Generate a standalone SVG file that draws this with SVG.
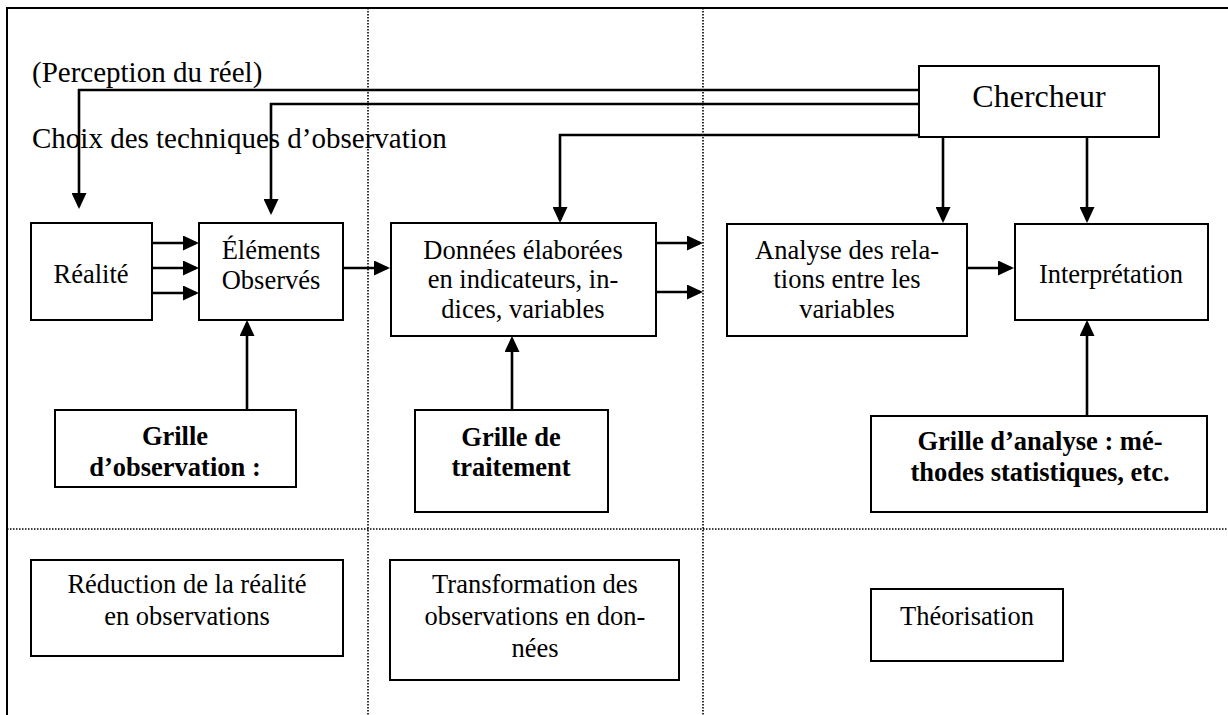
<svg xmlns="http://www.w3.org/2000/svg" width="1228" height="715" viewBox="0 0 1228 715">
<style>
.box{fill:#fff;stroke:#000;stroke-width:2}
.t{font-family:"Liberation Serif","Times New Roman",serif;font-size:26.5px;fill:#000;text-anchor:middle}
.b{font-weight:bold}
.lbl{font-family:"Liberation Serif","Times New Roman",serif;font-size:29px;fill:#000}
.frame{fill:none;stroke:#000;stroke-width:2}
.dot{fill:none;stroke:#000;stroke-width:1.6;stroke-dasharray:1.5 1.5}
.c{fill:none;stroke:#000;stroke-width:2.6;marker-end:url(#ah)}
</style>
<defs>
<marker id="ah" markerWidth="16" markerHeight="15" refX="13" refY="7.5" orient="auto" markerUnits="userSpaceOnUse">
<path d="M0,0 L16,7.5 L0,15 Z" fill="#000"/>
</marker>
</defs>
<rect width="1228" height="715" fill="#fff"/>
<g id="frame">
<path class="frame" d="M7,715 V8 H1228"/>
<path class="dot" d="M368,8 V715 M703,8 V715 M7,529 H1228"/>
</g>
<g id="labels">
<text class="lbl" x="32" y="82">(Perception du réel)</text>
<text class="lbl" x="32" y="148">Choix des techniques d’observation</text>
</g>
<g id="connectors">
<path class="c" d="M919,90 H79 V206"/>
<path class="c" d="M919,104 H271 V212"/>
<path class="c" d="M919,135 H560 V220"/>
<path class="c" d="M943,137 V220"/>
<path class="c" d="M1087,137 V220"/>
<path class="c" d="M152,243 H196"/>
<path class="c" d="M152,268 H196"/>
<path class="c" d="M152,293 H196"/>
<path class="c" d="M343,268 H387"/>
<path class="c" d="M656,243 H700"/>
<path class="c" d="M656,292 H700"/>
<path class="c" d="M967,268 H1011"/>
<path class="c" d="M247,410 V323"/>
<path class="c" d="M512,417 V339"/>
<path class="c" d="M1087,416 V323"/>
</g>
<g id="chercheur">
<rect class="box" x="919" y="66" width="240" height="71"/>
<text class="t" x="1039" y="107" style="font-size:32px">Chercheur</text>
</g>
<g id="realite">
<rect class="box" x="31" y="223" width="121" height="97"/>
<text class="t" x="91" y="283">Réalité</text>
</g>
<g id="elements">
<rect class="box" x="199" y="223" width="144" height="97"/>
<text class="t" x="271" y="259">Éléments</text>
<text class="t" x="271" y="289">Observés</text>
</g>
<g id="donnees">
<rect class="box" x="391" y="223" width="265" height="113"/>
<text class="t" x="523" y="259">Données élaborées</text>
<text class="t" x="523" y="288">en indicateurs, in-</text>
<text class="t" x="523" y="318">dices, variables</text>
</g>
<g id="analyse">
<rect class="box" x="727" y="224" width="240" height="112"/>
<text class="t" x="847" y="259">Analyse des rela-</text>
<text class="t" x="847" y="288">tions entre les</text>
<text class="t" x="847" y="318">variables</text>
</g>
<g id="interpretation">
<rect class="box" x="1015" y="224" width="193" height="96"/>
<text class="t" x="1111" y="283">Interprétation</text>
</g>
<g id="grille-observation">
<rect class="box" x="55" y="410" width="241" height="77"/>
<text class="t b" x="175" y="445">Grille</text>
<text class="t b" x="175" y="476">d’observation :</text>
</g>
<g id="grille-traitement">
<rect class="box" x="415" y="410" width="193" height="102"/>
<text class="t b" x="511" y="446">Grille de</text>
<text class="t b" x="511" y="476">traitement</text>
</g>
<g id="grille-analyse">
<rect class="box" x="871" y="416" width="336" height="96"/>
<text class="t b" x="1040" y="450">Grille d’analyse : mé-</text>
<text class="t b" x="1040" y="481">thodes statistiques, etc.</text>
</g>
<g id="reduction">
<rect class="box" x="31" y="560" width="312" height="96"/>
<text class="t" x="187" y="593">Réduction de la réalité</text>
<text class="t" x="187" y="625">en observations</text>
</g>
<g id="transformation">
<rect class="box" x="390" y="560" width="289" height="120"/>
<text class="t" x="535" y="593">Transformation des</text>
<text class="t" x="535" y="625">observations en don-</text>
<text class="t" x="535" y="657">nées</text>
</g>
<g id="theorisation">
<rect class="box" x="871" y="589" width="192" height="72"/>
<text class="t" x="967" y="625">Théorisation</text>
</g>
</svg>
